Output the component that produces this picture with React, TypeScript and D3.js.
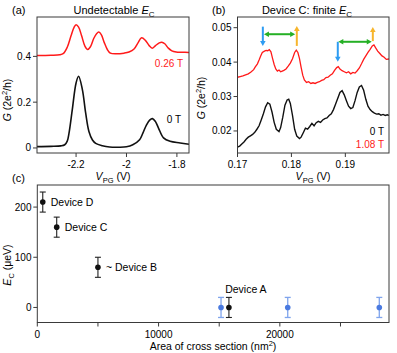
import React from "react";
import { scaleLinear, line, curveCatmullRom, curveLinear } from "d3";

// ---- panel (a): undetectable Ec, [V_PG (V), G (2e^2/h)]
const aRed: [number, number][] = [
  [-2.355, 0.404], [-2.3, 0.405], [-2.265, 0.407], [-2.25, 0.413], [-2.235, 0.44], [-2.22, 0.49],
  [-2.208, 0.527], [-2.2, 0.538], [-2.19, 0.528], [-2.178, 0.49], [-2.165, 0.445], [-2.154, 0.43],
  [-2.143, 0.442], [-2.13, 0.478], [-2.118, 0.5], [-2.11, 0.506], [-2.1, 0.495], [-2.088, 0.46],
  [-2.076, 0.43], [-2.064, 0.414], [-2.04, 0.411], [-2.01, 0.414], [-1.99, 0.419], [-1.97, 0.432],
  [-1.955, 0.458], [-1.94, 0.481], [-1.925, 0.47], [-1.91, 0.447], [-1.898, 0.436], [-1.885, 0.447],
  [-1.87, 0.459], [-1.86, 0.462], [-1.848, 0.455], [-1.834, 0.436], [-1.82, 0.424], [-1.803, 0.419],
  [-1.78, 0.418], [-1.752, 0.417],
];
const aBlack: [number, number][] = [
  [-2.355, 0.006], [-2.3, 0.007], [-2.26, 0.009], [-2.245, 0.014], [-2.235, 0.03], [-2.228, 0.065],
  [-2.215, 0.167], [-2.2, 0.284], [-2.19, 0.313], [-2.175, 0.255], [-2.162, 0.153], [-2.149, 0.072],
  [-2.135, 0.035], [-2.122, 0.02], [-2.096, 0.01], [-2.067, 0.004], [-2.03, 0.003], [-2.0, 0.005],
  [-1.975, 0.014], [-1.948, 0.036], [-1.935, 0.065], [-1.921, 0.1], [-1.908, 0.122], [-1.897, 0.128],
  [-1.885, 0.115], [-1.873, 0.087], [-1.853, 0.044], [-1.827, 0.029], [-1.787, 0.022], [-1.752, 0.016],
];
const aTicksX = [-2.2, -2, -1.8];
const aTicksY = [0, 0.2, 0.4];

// ---- panel (b): device C, finite Ec
const bRed: [number, number][] = [
  [0.17, 0.0356], [0.1705, 0.0358], [0.171, 0.036], [0.1715, 0.0363], [0.172, 0.0366], [0.1725, 0.0371],
  [0.173, 0.0378], [0.1733, 0.0386], [0.1737, 0.0395], [0.174, 0.0406], [0.1743, 0.0418], [0.1746, 0.0428],
  [0.175, 0.0432], [0.1753, 0.0434], [0.1756, 0.0433], [0.1759, 0.0436], [0.1762, 0.043], [0.1765, 0.0411],
  [0.1768, 0.0393], [0.1771, 0.038], [0.1774, 0.0374], [0.1777, 0.0377], [0.178, 0.0372], [0.1783, 0.0374],
  [0.1786, 0.0376], [0.179, 0.038], [0.1794, 0.0388], [0.1798, 0.0397], [0.1802, 0.041], [0.1806, 0.0428],
  [0.1809, 0.0435], [0.1812, 0.0428], [0.1815, 0.041], [0.1818, 0.0385], [0.1821, 0.0362], [0.1824, 0.0348],
  [0.1828, 0.0341], [0.1832, 0.0343], [0.1836, 0.0338], [0.184, 0.034], [0.1844, 0.0338], [0.1848, 0.0341],
  [0.1852, 0.0343], [0.1856, 0.0347], [0.186, 0.0349], [0.1864, 0.0355], [0.1868, 0.0356], [0.1872, 0.0362],
  [0.1876, 0.0366], [0.188, 0.0376], [0.1884, 0.0384], [0.1887, 0.0387], [0.189, 0.038], [0.1894, 0.0375],
  [0.1898, 0.0372], [0.1902, 0.0369], [0.1906, 0.0372], [0.191, 0.0366], [0.1914, 0.037], [0.1918, 0.0368],
  [0.1922, 0.0375], [0.1926, 0.0383], [0.193, 0.0395], [0.1934, 0.0408], [0.1938, 0.0418], [0.1942, 0.0428],
  [0.1946, 0.0437], [0.195, 0.0447], [0.1953, 0.045], [0.1956, 0.0442], [0.196, 0.0432], [0.1964, 0.0425],
  [0.1968, 0.0418], [0.1972, 0.0414], [0.1976, 0.0408], [0.1981, 0.0409],
];
const bBlack: [number, number][] = [
  [0.17, 0.0153], [0.1704, 0.0156], [0.1708, 0.0162], [0.1712, 0.0168], [0.1716, 0.0176], [0.172, 0.0182],
  [0.1724, 0.0186], [0.1728, 0.019], [0.1732, 0.0196], [0.1736, 0.0205], [0.174, 0.0215], [0.1744, 0.0232],
  [0.1748, 0.025], [0.1752, 0.027], [0.1756, 0.0282], [0.176, 0.0278], [0.1764, 0.0255], [0.1768, 0.0225],
  [0.1772, 0.0205], [0.1777, 0.0198], [0.178, 0.021], [0.1784, 0.024], [0.1788, 0.0275], [0.1792, 0.029],
  [0.1795, 0.0292], [0.1798, 0.028], [0.1802, 0.0245], [0.1806, 0.0205], [0.181, 0.0185], [0.1815, 0.0178],
  [0.1818, 0.0182], [0.1822, 0.0195], [0.1826, 0.0208], [0.183, 0.0205], [0.1834, 0.0213], [0.1838, 0.0222],
  [0.1842, 0.0215], [0.1846, 0.0224], [0.185, 0.0228], [0.1854, 0.0225], [0.1858, 0.0232], [0.1862, 0.0236],
  [0.1866, 0.0238], [0.187, 0.0245], [0.1874, 0.025], [0.1878, 0.0262], [0.1882, 0.0278], [0.1886, 0.0295],
  [0.189, 0.0312], [0.1894, 0.0317], [0.1898, 0.0305], [0.1902, 0.0288], [0.1906, 0.0272], [0.191, 0.0265],
  [0.1914, 0.0268], [0.1918, 0.0288], [0.1922, 0.0312], [0.1926, 0.0328], [0.193, 0.0332], [0.1934, 0.0318],
  [0.1938, 0.0292], [0.1942, 0.0272], [0.1946, 0.0262], [0.195, 0.0256], [0.1954, 0.0252], [0.1958, 0.0249],
  [0.1962, 0.025], [0.1966, 0.0246], [0.197, 0.0248], [0.1974, 0.0245], [0.1978, 0.0247], [0.1981, 0.0245],
];
const bTicksX = [0.17, 0.18, 0.19];
const bTicksY = [0.02, 0.03, 0.04, 0.05];
// arrows (V_PG, G)
const downX = [0.1747, 0.1886];
const downFrom = [0.0503, 0.0459];
const downTo = [0.0447, 0.0401];
const upX = [0.181, 0.1951];
const upFrom = [0.0447, 0.0461];
const upTo = [0.0505, 0.0502];
const spanX1 = [0.1749, 0.1887];
const spanX2 = [0.1807, 0.1949];
const spanY = [0.0481, 0.0459];

// ---- panel (c): Ec vs cross-section area
const devNames = ["Device D", "Device C", "~ Device B", "Device A"];
const devArea = [450, 1600, 5000, 15800];
const devEc = [210, 160, 80, 0];
const devErr = [20, 20, 20, 20];
const otherArea = [15150, 20650, 28200];
const otherEc = [0, 0, 0];
const otherErr = [20, 20, 20];
const cTicksX = [0, 5000, 10000, 15000, 20000, 25000];
const cLabelsX = [0, 10000, 20000];
const cTicksY = [0, 100, 200];

const FONT = "'Liberation Sans', Arial, sans-serif";
const BOX = "#3a3a3a";

const xa = scaleLinear().domain([-2.355, -1.752]).range([37, 189]);
const ya = scaleLinear().domain([-0.022, 0.572]).range([153, 17]);
const xb = scaleLinear().domain([0.17, 0.1981]).range([237.5, 389]);
const yb = scaleLinear().domain([0.0136, 0.0531]).range([153, 17]);
const xc = scaleLinear().domain([0, 29000]).range([37.3, 389]);
const yc = scaleLinear().domain([-30, 244]).range([322.5, 185]);

function Arrow({ x1, y1, x2, y2, color, both }: any) {
  const dx = x2 - x1, dy = y2 - y1;
  const len = Math.hypot(dx, dy);
  const ux = dx / len, uy = dy / len;
  const hl = 5, hw = 2.8;
  const head = (tx: number, ty: number, vx: number, vy: number) =>
    `${tx},${ty} ${tx - vx * hl - vy * hw},${ty - vy * hl + vx * hw} ${tx - vx * hl + vy * hw},${ty - vy * hl - vx * hw}`;
  const sx = both ? x1 + ux * (hl - 1) : x1;
  const sy = both ? y1 + uy * (hl - 1) : y1;
  return (
    <g>
      <line x1={sx} y1={sy} x2={x2 - ux * (hl - 1)} y2={y2 - uy * (hl - 1)} stroke={color} strokeWidth={2} />
      <polygon points={head(x2, y2, ux, uy)} fill={color} />
      {both && <polygon points={head(x1, y1, -ux, -uy)} fill={color} />}
    </g>
  );
}

function GLabel({ x, y }: { x: number; y: number }) {
  return (
    <text transform={`translate(${x},${y}) rotate(-90)`} textAnchor="middle" fontSize={10.5}>
      <tspan fontStyle="italic">G</tspan> (2e<tspan dy={-4} fontSize={7.5}>2</tspan>
      <tspan dy={4}>/h)</tspan>
    </text>
  );
}

function VLabel({ x, y }: { x: number; y: number }) {
  return (
    <text x={x} y={y} textAnchor="middle" fontSize={10.5}>
      <tspan fontStyle="italic">V</tspan>
      <tspan dy={2.5} fontSize={7.5}>PG</tspan>
      <tspan dy={-2.5}> (V)</tspan>
    </text>
  );
}

export default function App() {
  const lineA = line<[number, number]>().x((d) => xa(d[0])).y((d) => ya(d[1])).curve(curveCatmullRom);
  const lineB = line<[number, number]>().x((d) => xb(d[0])).y((d) => yb(d[1])).curve(curveLinear);

  return (
    <svg width={397} height={353} style={{ position: "absolute", left: 0, top: 0, background: "#fff" }}
      fontFamily={FONT}>
      <defs>
        <clipPath id="clipA"><rect x={37} y={17} width={152} height={136} /></clipPath>
        <clipPath id="clipB"><rect x={237.5} y={17} width={151.5} height={136} /></clipPath>
      </defs>

      {/* ---------- (a) ---------- */}
      <text x={12} y={14} fontSize={11}>(a)</text>
      <text x={114} y={14} fontSize={11} textAnchor="middle">
        Undetectable <tspan fontStyle="italic">E</tspan><tspan dy={2.5} fontSize={8}>C</tspan>
      </text>
      <g clipPath="url(#clipA)">
        <path d={lineA(aRed) || ""} fill="none" stroke="#ff1a1a" strokeWidth={1.5} />
        <path d={lineA(aBlack) || ""} fill="none" stroke="#111" strokeWidth={1.6} />
      </g>
      <rect x={37} y={17} width={152} height={136} fill="none" stroke={BOX} strokeWidth={1} />
      {aTicksY.map((t) => (
        <g key={t}>
          <line x1={33} x2={37} y1={ya(t)} y2={ya(t)} stroke={BOX} />
          <text x={31} y={ya(t) + 3.5} fontSize={10} textAnchor="end">{t}</text>
        </g>
      ))}
      {aTicksX.map((t) => (
        <g key={t}>
          <line x1={xa(t)} x2={xa(t)} y1={153} y2={157} stroke={BOX} />
          <text x={xa(t)} y={168} fontSize={10} textAnchor="middle">{String(t)}</text>
        </g>
      ))}
      <text x={183} y={67} fontSize={10} textAnchor="end" fill="#ff1a1a">0.26 T</text>
      <text x={181} y={123} fontSize={10} textAnchor="end">0 T</text>
      <GLabel x={11} y={100} />
      <VLabel x={113} y={180} />

      {/* ---------- (b) ---------- */}
      <text x={212} y={14} fontSize={11}>(b)</text>
      <text x={307} y={14} fontSize={11} textAnchor="middle">
        Device C: finite <tspan fontStyle="italic">E</tspan><tspan dy={2.5} fontSize={8}>C</tspan>
      </text>
      <g clipPath="url(#clipB)">
        <path d={lineB(bRed) || ""} fill="none" stroke="#ff1a1a" strokeWidth={1.3} />
        <path d={lineB(bBlack) || ""} fill="none" stroke="#111" strokeWidth={1.4} />
      </g>
      {downX.map((x, i) => (
        <Arrow key={"d" + i} x1={xb(x)} y1={yb(downFrom[i])} x2={xb(x)} y2={yb(downTo[i])} color="#2e9cf2" />
      ))}
      {upX.map((x, i) => (
        <Arrow key={"u" + i} x1={xb(x)} y1={yb(upFrom[i])} x2={xb(x)} y2={yb(upTo[i])} color="#f7b52c" />
      ))}
      {spanX1.map((x, i) => (
        <Arrow key={"s" + i} x1={xb(x)} y1={yb(spanY[i])} x2={xb(spanX2[i])} y2={yb(spanY[i])} color="#25b025" both />
      ))}
      <rect x={237.5} y={17} width={151.5} height={136} fill="none" stroke={BOX} strokeWidth={1} />
      {bTicksY.map((t) => (
        <g key={t}>
          <line x1={233.5} x2={237.5} y1={yb(t)} y2={yb(t)} stroke={BOX} />
          <text x={231.5} y={yb(t) + 3.5} fontSize={10} textAnchor="end">{t.toFixed(2)}</text>
        </g>
      ))}
      {bTicksX.map((t) => (
        <g key={t}>
          <line x1={xb(t)} x2={xb(t)} y1={153} y2={157} stroke={BOX} />
          <text x={xb(t)} y={168} fontSize={10} textAnchor="middle">{t.toFixed(2)}</text>
        </g>
      ))}
      <text x={384} y={135} fontSize={10} textAnchor="end">0 T</text>
      <text x={384} y={148} fontSize={10} textAnchor="end" fill="#ff1a1a">1.08 T</text>
      <GLabel x={205} y={98} />
      <VLabel x={313} y={180} />

      {/* ---------- (c) ---------- */}
      <text x={12} y={182} fontSize={11}>(c)</text>
      <rect x={37.3} y={185} width={351.7} height={137.5} fill="none" stroke={BOX} strokeWidth={1} />
      {cTicksY.map((t) => (
        <g key={t}>
          <line x1={33.3} x2={37.3} y1={yc(t)} y2={yc(t)} stroke={BOX} />
          <text x={31.5} y={yc(t) + 3.5} fontSize={10} textAnchor="end">{t}</text>
        </g>
      ))}
      {cTicksX.map((t) => (
        <g key={t}>
          <line x1={xc(t)} x2={xc(t)} y1={322.5} y2={326.5} stroke={BOX} />
          {cLabelsX.includes(t) && (
            <text x={xc(t)} y={337.5} fontSize={10} textAnchor="middle">{t}</text>
          )}
        </g>
      ))}
      {otherArea.map((a, i) => (
        <g key={"o" + i}>
          <line x1={xc(a)} x2={xc(a)} y1={yc(otherEc[i] - otherErr[i])} y2={yc(otherEc[i] + otherErr[i])} stroke="#7fa4ec" strokeWidth={1.3} />
          <line x1={xc(a) - 3} x2={xc(a) + 3} y1={yc(otherEc[i] - otherErr[i])} y2={yc(otherEc[i] - otherErr[i])} stroke="#7fa4ec" strokeWidth={1.3} />
          <line x1={xc(a) - 3} x2={xc(a) + 3} y1={yc(otherEc[i] + otherErr[i])} y2={yc(otherEc[i] + otherErr[i])} stroke="#7fa4ec" strokeWidth={1.3} />
          <circle cx={xc(a)} cy={yc(otherEc[i])} r={2.8} fill="#4a7ae0" />
        </g>
      ))}
      {devArea.map((a, i) => (
        <g key={"d" + i}>
          <line x1={xc(a)} x2={xc(a)} y1={yc(devEc[i] - devErr[i])} y2={yc(devEc[i] + devErr[i])} stroke="#222" strokeWidth={1.1} />
          <line x1={xc(a) - 3} x2={xc(a) + 3} y1={yc(devEc[i] - devErr[i])} y2={yc(devEc[i] - devErr[i])} stroke="#222" strokeWidth={1.1} />
          <line x1={xc(a) - 3} x2={xc(a) + 3} y1={yc(devEc[i] + devErr[i])} y2={yc(devEc[i] + devErr[i])} stroke="#222" strokeWidth={1.1} />
          <circle cx={xc(a)} cy={yc(devEc[i])} r={2.8} fill="#111" />
        </g>
      ))}
      {devNames.map((n, i) =>
        i < 3 ? (
          <text key={n} x={xc(devArea[i]) + 8} y={yc(devEc[i]) + 4} fontSize={10.5}>{n}</text>
        ) : (
          <text key={n} x={xc(devArea[i]) + 17} y={yc(devEc[i]) - 14.5} fontSize={10.5} textAnchor="middle">{n}</text>
        )
      )}
      <text transform={`translate(11,265) rotate(-90)`} textAnchor="middle" fontSize={10.5}>
        <tspan fontStyle="italic">E</tspan>
        <tspan dy={2.5} fontSize={7.5}>C</tspan>
        <tspan dy={-2.5}> (μeV)</tspan>
      </text>
      <text x={213} y={350} textAnchor="middle" fontSize={10.5}>
        Area of cross section (nm<tspan dy={-4} fontSize={7.5}>2</tspan><tspan dy={4}>)</tspan>
      </text>
    </svg>
  );
}
